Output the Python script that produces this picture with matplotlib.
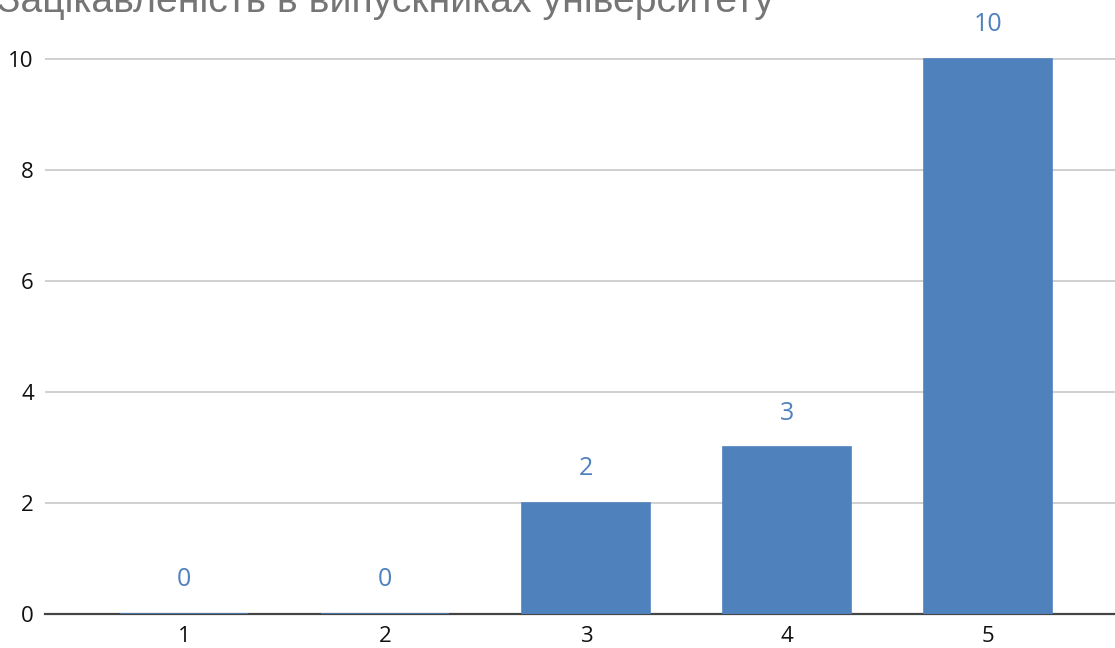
import matplotlib
matplotlib.use("Agg")
import matplotlib.pyplot as plt

title = "Зацікавленість в випускниках університету"
categories = ["1", "2", "3", "4", "5"]
values = [0, 0, 2, 3, 10]
yticks = [0, 2, 4, 6, 8, 10]

bar_color = "#4F81BD"
W, H, DPI = 1115, 648, 100
fig = plt.figure(figsize=(W / DPI, H / DPI), dpi=DPI)
# axes: left at 45px, right at 1115px, bottom at 614px, top at 0px
ax = fig.add_axes([45 / W, (H - 614) / H, (W - 45) / W, 614 / H])

x = list(range(1, len(categories) + 1))
bars = ax.bar(x, values, width=0.64, color=bar_color, edgecolor=bar_color,
              linewidth=1.2, zorder=3)

ax.set_xlim(0.308, 5.632)
ax.set_ylim(0, 11.06)
ax.set_yticks(yticks)
ax.set_xticks(x)
ax.set_xticklabels(categories)
ax.yaxis.grid(True, color="#D0D0D0", linewidth=1.4, zorder=0)
ax.set_axisbelow(True)
for s in ["top", "right", "left"]:
    ax.spines[s].set_visible(False)
ax.spines["bottom"].set_color("#444444")
ax.spines["bottom"].set_linewidth(1.6)
ax.spines["bottom"].set_zorder(2)
ax.tick_params(axis="both", length=0, labelsize=16, labelcolor="#111111")
ax.tick_params(axis="x", pad=9)
ax.tick_params(axis="y", pad=8)
for lab in ax.get_xticklabels() + ax.get_yticklabels():
    lab.set_fontfamily("Open Sans")

for xi, v in zip(x, values):
    ax.annotate(str(v), (xi, v), xytext=(0, 24.5), textcoords="offset points",
                ha="center", va="center", fontsize=18, color=bar_color,
                fontfamily="Open Sans")

fig.text(-3 / W, (H - 2) / H, title, ha="left", va="center",
         fontsize=28.2, color="#757575", fontfamily="Liberation Sans")

fig.savefig("out.png", dpi=DPI)
